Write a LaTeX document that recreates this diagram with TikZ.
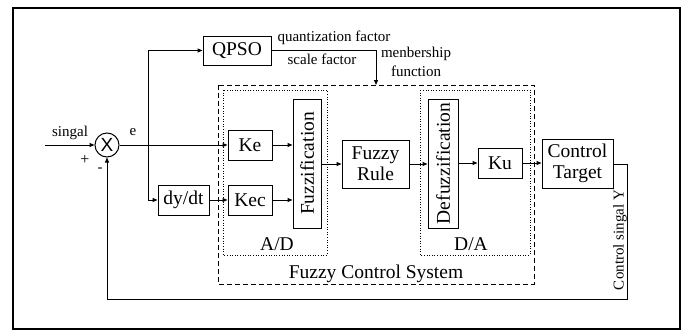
\documentclass[tikz,border=0pt]{standalone}
\usepackage{fontspec}
\setmainfont{Liberation Serif}
\newfontfamily\arialf{Liberation Sans}
\usetikzlibrary{arrows.meta}
\begin{document}
\begin{tikzpicture}[x=1pt,y=-1pt,
  box/.style={draw,line width=1pt,inner sep=0pt,font=\fontsize{19.5}{20}\selectfont},
  lbl/.style={inner sep=0pt,font=\fontsize{15}{16}\selectfont},
  ar/.style={line width=1pt,-{Triangle[length=5pt,width=4pt]}},
  dashbox/.style={line width=0.9pt,dash pattern=on 5pt off 3pt},
  dotbox/.style={line width=1pt,dash pattern=on 1pt off 1.6pt}]
\useasboundingbox (0,0) rectangle (685,332);
\draw[line width=2.8pt] (13,8) rectangle (680,329);
% boxes
\node[box,minimum width=68pt,minimum height=29pt] (qpso) at (237,50.5) {QPSO};
\node[draw,circle,line width=1pt,minimum size=24pt,inner sep=0pt,font=\arialf\fontsize{19}{20}\selectfont] (sum) at (107,145) {X};
\node[box,minimum width=44pt,minimum height=30pt] (ke) at (250,145) {Ke};
\node[box,minimum width=44pt,minimum height=30pt] (kec) at (250,200) {Kec};
\node[box,minimum width=51pt,minimum height=30pt] (dydt) at (183.5,200) {dy/dt};
\node[box,minimum width=28pt,minimum height=129pt] (fuzz) at (307,163.5) {};
\node[rotate=90,inner sep=0pt,font=\fontsize{19.5}{20}\selectfont] (fuzzt) at (fuzz.center) {Fuzzification};
\node[box,minimum width=67pt,minimum height=48pt,align=center,font=\fontsize{19.5}{21}\selectfont] (rule) at (375.5,164) {Fuzzy\\Rule};
\node[box,minimum width=30pt,minimum height=129pt] (defuzz) at (443,163.5) {};
\node[rotate=90,inner sep=0pt,font=\fontsize{19.5}{20}\selectfont] (defuzzt) at (defuzz.center) {Defuzzification};
\node[box,minimum width=44pt,minimum height=30pt] (ku) at (500,163) {Ku};
\node[box,minimum width=71pt,minimum height=49pt,align=center,font=\fontsize{19.5}{21}\selectfont] (target) at (577.5,163.5) {Control\\Target};
% dashed / dotted frames
\draw[dashbox] (218,85) rectangle (534,284);
\draw[dotbox] (223,90) rectangle (327,255);
\draw[dotbox] (420,90) rectangle (530,255);
\node[inner sep=0pt,font=\fontsize{19.5}{20}\selectfont] (ad) at (277,244) {A/D};
\node[inner sep=0pt,font=\fontsize{19.5}{20}\selectfont] (da) at (471,244) {D/A};
\node[inner sep=0pt,font=\fontsize{19.5}{20}\selectfont] (fcs) at (376,274) {Fuzzy Control System};
% coordinates
\coordinate (in) at (45,145);
\coordinate (j) at (148,145);
\coordinate (qin) at (148,50.5);
\coordinate (dyin) at (148,200);
\coordinate (qout) at (376,50.5);
\coordinate (fcstop) at (376,85);
\coordinate (o1) at (627,164);
\coordinate (o2) at (627,299);
\coordinate (o3) at (107,299);
% connectors
\draw[ar] (in) -- (sum.west);
\draw[ar] (sum.east) -- (ke.west);
\draw[ar] (j) -- (qin) -- (qpso.west);
\draw[ar] (j) -- (dyin) -- (dydt.west);
\draw[ar] (dydt.east) -- (kec.west);
\draw[ar] (ke.east) -- (ke.east -| fuzz.west);
\draw[ar] (kec.east) -- (kec.east -| fuzz.west);
\draw[ar] (fuzz.east |- rule.west) -- (rule.west);
\draw[ar] (rule.east) -- (rule.east -| defuzz.west);
\draw[ar] (defuzz.east |- ku.west) -- (ku.west);
\draw[ar] (ku.east) -- (ku.east -| target.west);
\draw[ar] (qpso.east) -- (qout) -- (fcstop);
\draw[ar] (target.east |- o1) -- (o1) -- (o2) -- (o3) -- (sum.south);
% labels
\node[lbl] (lsing) at (70,133) {singal};
\node[lbl,font=\fontsize{16}{17}\selectfont] (lplus) at (85,160) {+};
\node[lbl,font=\arialf\fontsize{15}{16}\selectfont] (lminus) at (100,170) {-};
\node[lbl] (le) at (133,132) {e};
\node[lbl] (lq) at (334,38) {quantization factor};
\node[lbl] (ls) at (322,59) {scale factor};
\node[lbl,align=center,font=\fontsize{15}{19}\selectfont] (lm) at (416,62) {menbership\\function};
\node[lbl,rotate=90] (ly) at (620,240) {Control singal Y};
\end{tikzpicture}
\end{document}
